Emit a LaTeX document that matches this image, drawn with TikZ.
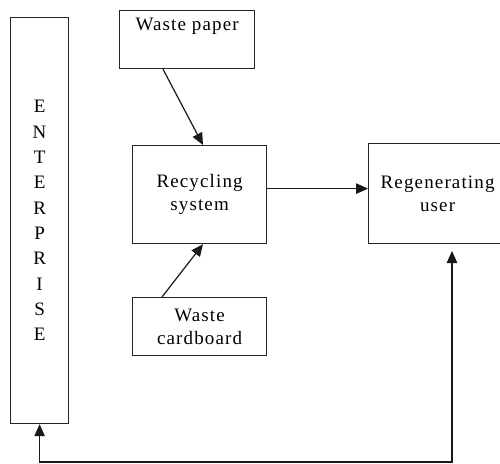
\documentclass[tikz,border=0pt]{standalone}
\usepackage{fontspec}
\setmainfont{Liberation Serif}[LetterSpace=6]
\usetikzlibrary{arrows.meta}
\begin{document}
\begin{tikzpicture}[x=1pt,y=-1pt,
  box/.style={draw=black!85, line width=1.2pt, rectangle, anchor=north west,
    inner sep=0pt, align=center, text=black, font=\fontsize{19}{23}\selectfont},
  arr/.style={draw=black!90, line width=1.2pt, -{Triangle[length=12pt,width=10.5pt]}},
  dblarr/.style={draw=black!90, line width=1.2pt, {Triangle[length=12pt,width=10.5pt]}-{Triangle[length=12pt,width=10.5pt]}}]
\useasboundingbox (0,0) rectangle (500,463);
\node[box, minimum width=58, minimum height=406, font=\fontsize{19}{25.3}\selectfont] (ent) at (10,17)
  {E\\N\\T\\E\\R\\P\\R\\I\\S\\E};
\node[box, minimum width=135, minimum height=58] (wp) at (119,10) {Waste paper\\[8pt]\mbox{}};
\node[box, minimum width=134, minimum height=98] (rs) at (132,145) {Recycling\\system};
\node[box, minimum width=138, minimum height=100] (ru) at (368,143) {Regenerating\\user};
\node[box, minimum width=134, minimum height=58] (wc) at (132,297) {Waste\\cardboard};
\draw[arr] ([xshift=44pt]wp.south west) -- ([xshift=71pt]rs.north west);
\draw[arr] ([xshift=30pt]wc.north west) -- ([xshift=71pt]rs.south west);
\draw[arr] ([yshift=6pt]rs.east) -- ([yshift=6pt]rs.east -| ru.west);
\coordinate (rt) at (452,251);
\coordinate (low) at (452,462);
\draw[dblarr] (ent.south) |- (low) -- (rt);
\end{tikzpicture}
\end{document}
